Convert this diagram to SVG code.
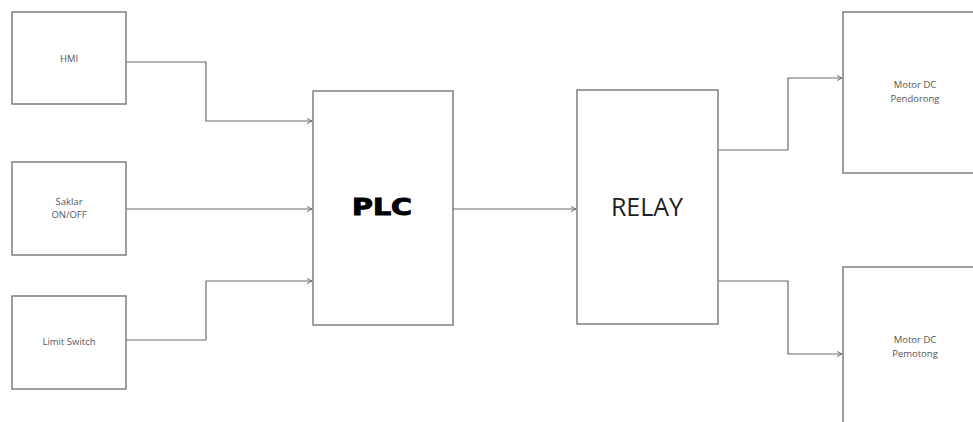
<svg xmlns="http://www.w3.org/2000/svg" width="973" height="422" viewBox="0 0 973 422">
<style>
.box{fill:#fff;stroke:#6b6b6b;stroke-width:1.3}
.ln{fill:none;stroke:#6b6b6b;stroke-width:1.2;marker-end:url(#ar)}
.sm{font-family:"Open Sans","Liberation Sans",sans-serif;font-size:9.5px;fill:#555;text-anchor:middle}
</style>
<defs>
<marker id="ar" markerWidth="6" markerHeight="6" refX="5" refY="3" orient="auto" markerUnits="userSpaceOnUse">
<path d="M0,0.5 L5,3 L0,5.5" fill="none" stroke="#6b6b6b" stroke-width="1"/>
</marker>
</defs>
<rect width="973" height="422" fill="#fff"/>
<g id="hmi"><rect class="box" x="12" y="12" width="114" height="92"/><text class="sm" x="69" y="62">HMI</text></g>
<g id="saklar"><rect class="box" x="12" y="162" width="114" height="93"/><text class="sm" x="69" y="205">Saklar</text><text class="sm" x="69" y="218">ON/OFF</text></g>
<g id="limit"><rect class="box" x="12" y="296" width="114" height="93"/><text class="sm" x="69" y="345">Limit Switch</text></g>
<g id="plc"><rect class="box" x="313" y="91" width="140" height="234"/><text x="352" y="215" textLength="60" lengthAdjust="spacingAndGlyphs" font-family="'DejaVu Sans','Liberation Sans',sans-serif" font-weight="bold" font-size="23" fill="#000" stroke="#000" stroke-width="1">PLC</text></g>
<g id="relay"><rect class="box" x="577" y="90" width="141" height="234"/><text x="647" y="216" font-family="'Open Sans','Liberation Sans',sans-serif" font-size="25" text-anchor="middle" fill="#222">RELAY</text></g>
<g id="pendorong"><rect class="box" x="843" y="12" width="140" height="161"/><text class="sm" x="915" y="88">Motor DC</text><text class="sm" x="915" y="102">Pendorong</text></g>
<g id="pemotong"><rect class="box" x="843" y="267" width="140" height="170"/><text class="sm" x="915" y="343">Motor DC</text><text class="sm" x="915" y="357">Pemotong</text></g>
<g id="connectors">
<path class="ln" d="M126,62 H206 V121 H312"/>
<path class="ln" d="M126,209 H312"/>
<path class="ln" d="M126,340 H206 V281 H312"/>
<path class="ln" d="M453,209 H576"/>
<path class="ln" d="M718,150 H788 V78 H842"/>
<path class="ln" d="M718,281 H788 V354 H842"/>
</g>
</svg>
